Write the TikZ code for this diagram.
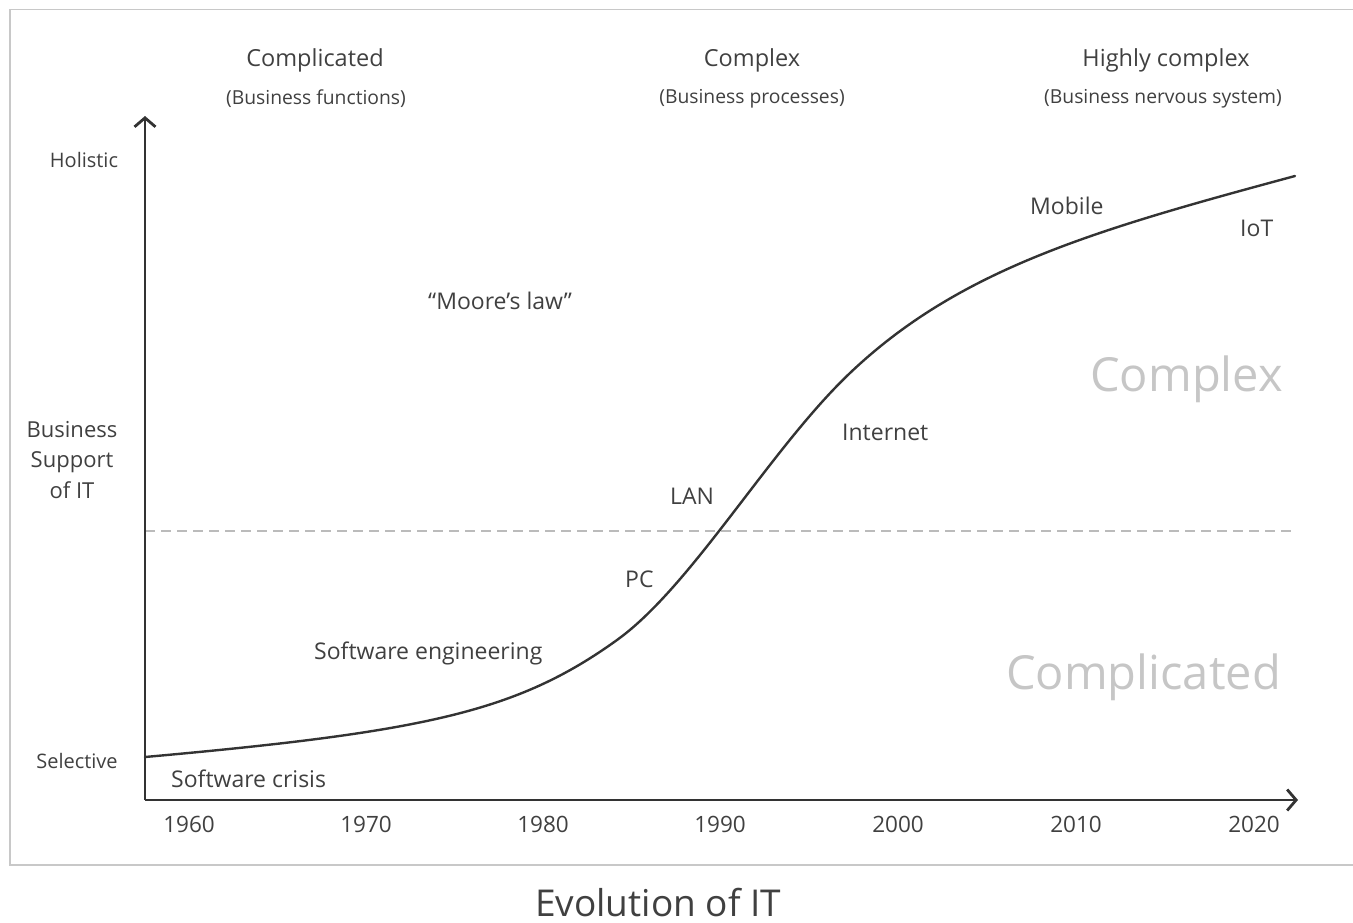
\documentclass[tikz,border=0pt]{standalone}
\usepackage{fontspec}
\setmainfont{Open Sans}
\usetikzlibrary{arrows.meta}
\definecolor{txt}{HTML}{404040}
\definecolor{axis}{HTML}{333333}
\definecolor{framec}{HTML}{C8C8C8}
\definecolor{ghost}{HTML}{C6C6C6}
\definecolor{dashc}{HTML}{BBBBBB}
\begin{document}
\begin{tikzpicture}[x=1pt,y=-1pt,
  lbl/.style={text=txt,inner sep=0pt,font=\fontsize{23}{27}\selectfont},
  head/.style={text=txt,inner sep=0pt,font=\fontsize{23.5}{28}\selectfont},
  sub/.style={text=txt,inner sep=0pt,font=\fontsize{19.3}{23}\selectfont},
  side/.style={text=txt,inner sep=0pt,font=\fontsize{20}{24}\selectfont},
  year/.style={text=txt,inner sep=0pt,font=\fontsize{22.5}{27}\selectfont},
  ghosttext/.style={text=ghost,inner sep=0pt,font=\fontsize{47}{56}\selectfont},
  axisline/.style={draw=axis,line width=2.8pt,-{Straight Barb[length=9pt,width=21pt,line width=2.8pt]}},
  curveline/.style={draw=axis,line width=2.4pt,line cap=round},
  dashline/.style={draw=dashc,line width=1.6pt,dash pattern=on 10pt off 6pt}
]
\useasboundingbox (0,0) rectangle (1353,922);
% frame
\draw[framec,line width=1.2pt] (1360,9.5) -- (10,9.5) -- (10,865) -- (1360,865);

% axes
\coordinate (o) at (145,800);
\coordinate (ytip) at (145,116);
\coordinate (xtip) at (1298,800);
\coordinate (dl) at (145,531);
\coordinate (dr) at (1297,531);
\draw[dashline] (dl) -- (dr);
\draw[axisline] (o) -- (ytip);
\draw[axisline] (o) -- (xtip);

% curve
\coordinate (c0) at (145,757);
\coordinate (c1) at (617,640);
\coordinate (c2) at (850,373);
\coordinate (c3) at (1295,176);
\draw[curveline] (c0) .. controls (425,731.8) and (517,712) .. (c1)
  .. controls (692,586) and (770,449) .. (c2)
  .. controls (960,268.5) and (1095,230) .. (c3);

% headers
\node[head] (h1) at (315,60) {Complicated};
\node[sub]  (s1) at (316,99) {(Business functions)};
\node[head] (h2) at (752,60) {Complex};
\node[sub]  (s2) at (752,99) {(Business processes)};
\node[head] (h3) at (1166,60) {Highly complex};
\node[sub]  (s3) at (1163,99) {(Business nervous system)};

% y-axis labels
\node[side] (hol) at (84,160) {Holistic};
\node[side] (sel) at (77,761) {Selective};
\node[lbl,align=center,font=\fontsize{22}{30.5}\selectfont] (bs) at (72,460) {Business\\Support\\of IT};

% curve labels
\node[lbl,anchor=west] (crisis) at (171,779) {Software crisis};
\node[lbl,anchor=west] (eng) at (314,653) {Software engineering};
\node[lbl,anchor=west] (moore) at (428,301) {“Moore’s law”};
\node[lbl,anchor=west] (pc) at (625,579) {PC};
\node[lbl,anchor=west] (lan) at (670,496) {LAN};
\node[lbl,anchor=west] (inet) at (842,432) {Internet};
\node[lbl,anchor=west] (mob) at (1030,206) {Mobile};
\node[lbl,anchor=west] (iot) at (1240,228) {IoT};

% ghost labels
\node[ghosttext,anchor=east] (gcx) at (1283,379) {Complex};
\node[ghosttext,anchor=east] (gcd) at (1281,677) {Complicated};

% years
\node[year] (y60) at (189,824) {1960};
\node[year] (y70) at (366,824) {1970};
\node[year] (y80) at (543,824) {1980};
\node[year] (y90) at (720,824) {1990};
\node[year] (y00) at (898,824) {2000};
\node[year] (y10) at (1076,824) {2010};
\node[year] (y20) at (1254,824) {2020};

% caption
\node[text=txt,inner sep=0pt,anchor=base,font=\fontsize{37}{44}\selectfont] (cap) at (658,916) {Evolution of IT};
\end{tikzpicture}
\end{document}
